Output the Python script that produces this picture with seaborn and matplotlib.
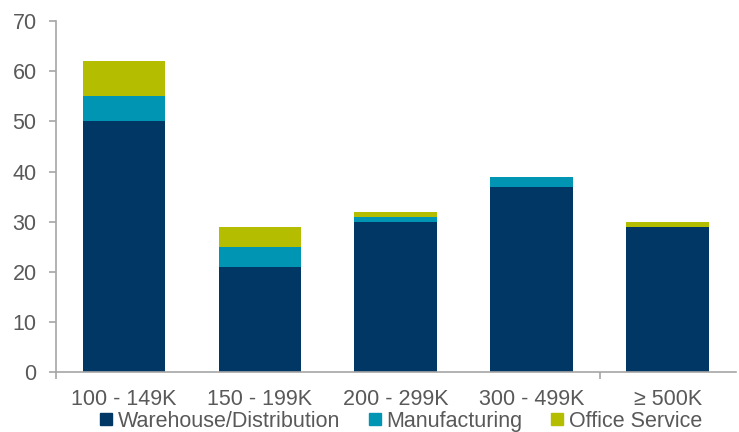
import pandas as pd
import matplotlib.pyplot as plt
import seaborn as sns
from matplotlib.lines import Line2D

categories = ['100 - 149K', '150 - 199K', '200 - 299K', '300 - 499K', '\u2265 500K']
warehouse = [50, 21, 30, 37, 29]
manufacturing = [5, 4, 1, 2, 0]
office = [7, 4, 1, 0, 1]

colors = {'Warehouse/Distribution': '#003764',
          'Manufacturing': '#0095B3',
          'Office Service': '#B5BD00'}

df = pd.DataFrame({'size': categories, 'wh': warehouse,
                   'mf': manufacturing, 'of': office})
df['wh_mf'] = df['wh'] + df['mf']
df['total'] = df['wh_mf'] + df['of']

sns.set_theme(style='white')
plt.rcParams['font.family'] = ['Liberation Sans', 'DejaVu Sans']
grey = '#595959'
fs = 15.5

fig = plt.figure(figsize=(7.39, 4.32), dpi=100)
ax = fig.add_axes([0.0758, 0.139, 0.920, 0.812])

# layered bars give the stacked look
for col, name in [('total', 'Office Service'), ('wh_mf', 'Manufacturing'),
                  ('wh', 'Warehouse/Distribution')]:
    sns.barplot(data=df, x='size', y=col, color=colors[name], width=0.61,
                saturation=1, linewidth=0, ax=ax)

ax.set_xlim(-0.5, 4.5)
ax.set_ylim(0, 70)
ax.set_yticks(range(0, 71, 10))
ax.set_xlabel('')
ax.set_ylabel('')

for side in ['top', 'right']:
    ax.spines[side].set_visible(False)
for side in ['left', 'bottom']:
    ax.spines[side].set_color('#A6A6A6')
    ax.spines[side].set_linewidth(1.2)

ax.tick_params(axis='y', left=True, length=5, width=1.2, color='#A6A6A6',
               labelsize=fs, labelcolor=grey, pad=9)
ax.tick_params(axis='x', bottom=False, labelsize=fs, labelcolor=grey, pad=6)
ax.set_xticks([-0.5, 3.5], minor=True)
ax.tick_params(axis='x', which='minor', bottom=True, length=5, width=1.2,
               color='#A6A6A6')

handles = [Line2D([0], [0], marker='s', linestyle='', markersize=8,
                  markerfacecolor=c, markeredgecolor=c) for c in colors.values()]
fig.legend(handles, list(colors.keys()), loc='lower center', ncol=3,
           bbox_to_anchor=(0.541, -0.044), frameon=False, fontsize=fs,
           labelcolor=grey, handletextpad=0.15, columnspacing=1.2,
           handlelength=0.8)

fig.savefig('out.png', dpi=100, facecolor='white')
